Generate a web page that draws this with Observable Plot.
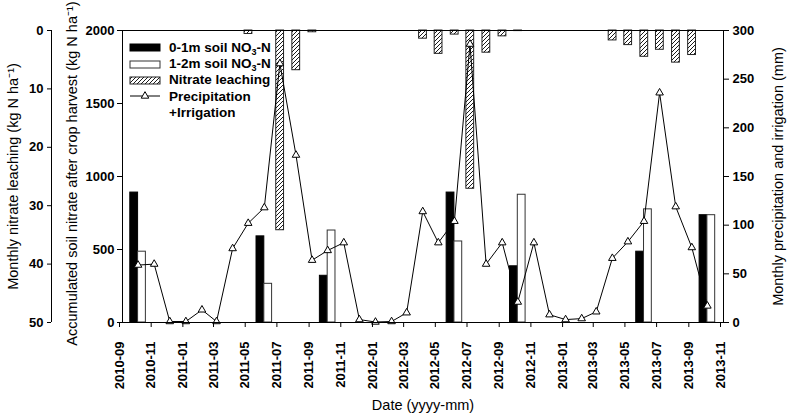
<!DOCTYPE html>
<html><head><meta charset="utf-8">
<script src="https://cdn.jsdelivr.net/npm/d3@7"></script>
<script src="https://cdn.jsdelivr.net/npm/@observablehq/plot@0.6"></script>
<style>
body{margin:0;background:#fff;}
#wrap{position:relative;width:787px;height:419px;font-family:"Liberation Sans",Arial,sans-serif;}
#legend{position:absolute;left:129px;top:39px;font-weight:bold;font-size:13.5px;color:#000;}
.row{display:flex;align-items:center;height:16.4px;white-space:nowrap;}
.row svg{width:40px;height:16px;flex:none;}
.sub{font-size:9px;position:relative;top:3px;}
</style></head><body><div id="wrap"><div id="legend"></div></div>
<script>
// ---------- data ----------
const precipMonths = ["2010-10","2010-11","2010-12","2011-01","2011-02","2011-03","2011-04","2011-05","2011-06","2011-07","2011-08","2011-09","2011-10","2011-11","2011-12","2012-01","2012-02","2012-03","2012-04","2012-05","2012-06","2012-07","2012-08","2012-09","2012-10","2012-11","2012-12","2013-01","2013-02","2013-03","2013-04","2013-05","2013-06","2013-07","2013-08","2013-09","2013-10"];
const precipValues = [59, 60, 1, 1, 13, 1, 76, 102, 118, 266, 172, 64, 74, 82, 3, 0.5, 1, 10, 114, 82, 104, 286, 60, 82, 21, 82, 8, 3, 4, 11, 66, 83, 104, 236, 119, 77, 17];

const soilMonths = ["2010-10","2011-06","2011-10","2012-06","2012-10","2013-06","2013-10"];
const soil0to1 = [890, 590, 320, 890, 385, 485, 735];
const soil1to2 = [485, 265, 630, 555, 875, 775, 735];

const leachMonths = ["2011-05","2011-07","2011-08","2011-09","2012-04","2012-05","2012-06","2012-07","2012-08","2012-09","2012-10","2013-04","2013-05","2013-06","2013-07","2013-08","2013-09"];
const leachValues = [0.6, 34.2, 6.8, 0.3, 1.4, 4.0, 0.7, 27.1, 3.8, 1.0, 0.1, 1.7, 2.5, 4.5, 3.3, 5.5, 4.2];

const xTickLabels = ["2010-09","2010-11","2011-01","2011-03","2011-05","2011-07","2011-09","2011-11","2012-01","2012-03","2012-05","2012-07","2012-09","2012-11","2013-01","2013-03","2013-05","2013-07","2013-09","2013-11"];
const soilTicks = [0, 500, 1000, 1500, 2000];
const leachTicks = [0, 10, 20, 30, 40, 50];
const precipTicks = [0, 50, 100, 150, 200, 250, 300];

// ---------- scale helpers ----------
const parse = d3.utcParse("%Y-%m");
const SOIL_MAX = 2000, PRECIP_MAX = 300, LEACH_MAX = 50;
const fromPrecip = v => v * SOIL_MAX / PRECIP_MAX;
const fromLeach = v => SOIL_MAX - v * SOIL_MAX / LEACH_MAX;

const precip = precipMonths.map((m, i) => ({date: parse(m), v: precipValues[i]}));
const soil = soilMonths.map((m, i) => ({date: parse(m), a: soil0to1[i], b: soil1to2[i]}));
const leach = leachMonths.map((m, i) => ({date: parse(m), v: leachValues[i]}));
const xTicks = xTickLabels.map(parse);
const x0 = xTicks[0], x1 = xTicks[xTicks.length - 1];

const defs = () => {
  const g = document.createElementNS("http://www.w3.org/2000/svg", "defs");
  g.innerHTML = `<pattern id="hatch" patternUnits="userSpaceOnUse" width="4" height="4">
    <rect width="4" height="4" fill="white"/>
    <path d="M-1,1 l2,-2 M0,4 l4,-4 M3,5 l2,-2" stroke="black" stroke-width="0.9"/></pattern>`;
  return g;
};

const tickStyle = {fontWeight: "bold", fontSize: 13, tickSize: 5, label: null};

const chart = Plot.plot({
  width: 787, height: 419,
  marginLeft: 122, marginRight: 64, marginTop: 30, marginBottom: 97,
  style: {fontFamily: "'Liberation Sans', Arial, sans-serif", fontSize: "13px", color: "black", background: "white"},
  x: {type: "utc", domain: [x0, x1]},
  y: {domain: [0, SOIL_MAX]},
  marks: [
    defs,
    Plot.rect(soil, {x1: d => d3.utcDay.offset(d.date, -15), x2: d => d.date, y1: 0, y2: "a", fill: "black", stroke: "black", strokeWidth: 1}),
    Plot.rect(soil, {x1: d => d.date, x2: d => d3.utcDay.offset(d.date, 15), y1: 0, y2: "b", fill: "white", stroke: "#333", strokeWidth: 1}),
    Plot.rect(leach, {x1: d => d3.utcDay.offset(d.date, -7), x2: d => d3.utcDay.offset(d.date, 8), y1: SOIL_MAX, y2: d => fromLeach(d.v), fill: "url(#hatch)", stroke: "#222", strokeWidth: 1}),
    Plot.line(precip, {x: "date", y: d => fromPrecip(d.v), stroke: "black", strokeWidth: 1}),
    Plot.dot(precip, {x: "date", y: d => fromPrecip(d.v), symbol: "triangle", r: 2.8, fill: "white", stroke: "black", strokeWidth: 1}),
    Plot.frame({stroke: "black"}),
    Plot.axisX(xTicks, {...tickStyle, tickFormat: d3.utcFormat("%Y-%m"), tickRotate: -90, tickPadding: 14, dx: -3}),
    Plot.axisY(soilTicks, {...tickStyle, anchor: "left", tickPadding: 3, tickFormat: d => String(d)}),
    Plot.axisY(precipTicks.map(fromPrecip), {...tickStyle, anchor: "right", tickPadding: 4, tickFormat: d => String(Math.round(d * PRECIP_MAX / SOIL_MAX))}),
    Plot.axisY(leachTicks.map(fromLeach), {...tickStyle, anchor: "left", dx: -71, tickSize: 4, tickPadding: 4, tickFormat: d => String(Math.round((SOIL_MAX - d) * LEACH_MAX / SOIL_MAX))}),
    Plot.ruleX([x0], {y1: 0, y2: SOIL_MAX, dx: -71, stroke: "black"}),
    Plot.text(["Monthly nitrate leaching (kg N ha⁻¹)"], {frameAnchor: "left", textAnchor: "middle", rotate: -90, dx: -109, fontSize: 14.5}),
    Plot.text(["Accumulated soil nitrate after crop harvest (kg N ha⁻¹)"], {frameAnchor: "left", textAnchor: "middle", rotate: -90, dx: -50, dy: -3, fontSize: 14.5}),
    Plot.text(["Monthly precipitation and irrigation (mm)"], {frameAnchor: "right", textAnchor: "middle", rotate: -90, dx: 55, fontSize: 14.5}),
    Plot.text(["Date (yyyy-mm)"], {frameAnchor: "bottom", dy: 87, fontSize: 14.5})
  ]
});
document.getElementById("wrap").prepend(chart);

// ---------- legend ----------
const legendItems = [
  {swatch: `<rect x="1" y="5" width="30" height="7" fill="black" stroke="black"/>`, label: `0-1m soil NO<span class="sub">3</span>-N`},
  {swatch: `<rect x="1" y="5" width="30" height="7" fill="white" stroke="#333"/>`, label: `1-2m soil NO<span class="sub">3</span>-N`},
  {swatch: `<rect x="1" y="5" width="30" height="7" fill="url(#hatch)" stroke="#222"/>`, label: `Nitrate leaching`},
  {swatch: `<line x1="1" x2="31" y1="8" y2="8" stroke="black"/><path d="${d3.symbol(d3.symbolTriangle, Math.PI*2.8*2.8)()}" transform="translate(16,8)" fill="white" stroke="black"/>`, label: `Precipitation`},
  {swatch: ``, label: `+Irrigation`}
];
document.getElementById("legend").innerHTML = legendItems.map(d =>
  `<div class="row"><svg>${d.swatch}</svg><span>${d.label}</span></div>`).join("");
</script></body></html>
